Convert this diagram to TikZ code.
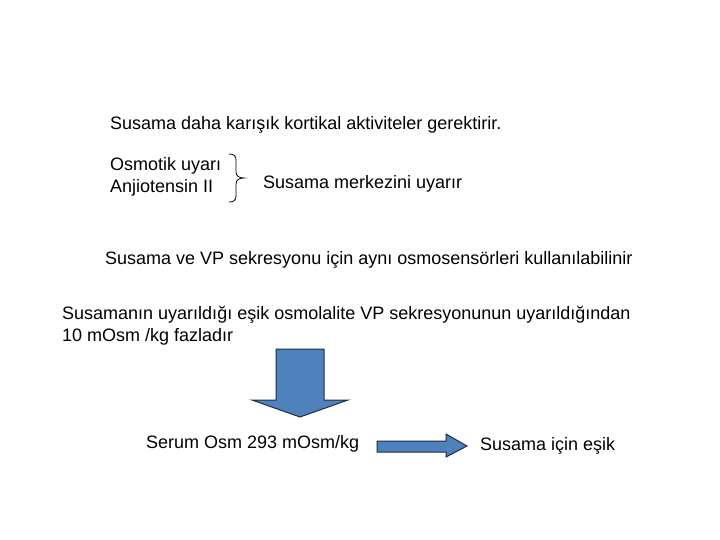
\documentclass[tikz,border=0pt]{standalone}
\usepackage{fontspec}
\setmainfont{Liberation Sans}
\definecolor{arrowfill}{HTML}{4F81BD}
\definecolor{arrowline}{HTML}{1F2A44}
\begin{document}
\begin{tikzpicture}[x=1pt,y=-1pt,
  txt/.style={anchor=base west,inner sep=0pt,font=\fontsize{18}{22}\selectfont},
  blockarrow/.style={fill=arrowfill,draw=arrowline,line width=1pt,line join=miter}]
\useasboundingbox (0,0) rectangle (720,540);
\node[txt] (t1) at (110,129.5) {Susama daha karışık kortikal aktiviteler gerektirir.};
\node[txt] (t2) at (110,171) {Osmotik uyarı};
\node[txt] (t3) at (110,193) {Anjiotensin II};
\node[txt] (t4) at (263,189) {Susama merkezini uyarır};
\node[txt] (t5) at (105,264) {Susama ve VP sekresyonu için aynı osmosensörleri kullanılabilinir};
\node[txt] (t6) at (62,319) {Susamanın uyarıldığı eşik osmolalite VP sekresyonunun uyarıldığından};
\node[txt] (t7) at (62,341) {10 mOsm /kg fazladır};
\node[txt] (t8) at (146,448) {Serum Osm 293 mOsm/kg};
\node[txt] (t9) at (480,450.5) {Susama için eşik};
% brace
\draw[line width=0.8pt] (229,154) .. controls (234,154) and (236,156) .. (236,160)
  -- (236,172) .. controls (236,176) and (239,178) .. (244,178)
  .. controls (239,178) and (236,180) .. (236,184)
  -- (236,196) .. controls (236,200) and (234,202) .. (229,202);
% down arrow
\draw[blockarrow] (276,349) -- (324,349) -- (324,400) -- (348,400) -- (300,417) -- (252,400) -- (276,400) -- cycle;
% right arrow
\draw[blockarrow] (377,441) -- (446,441) -- (446,434) -- (467,446) -- (446,457) -- (446,452) -- (377,452) -- cycle;
\end{tikzpicture}
\end{document}
